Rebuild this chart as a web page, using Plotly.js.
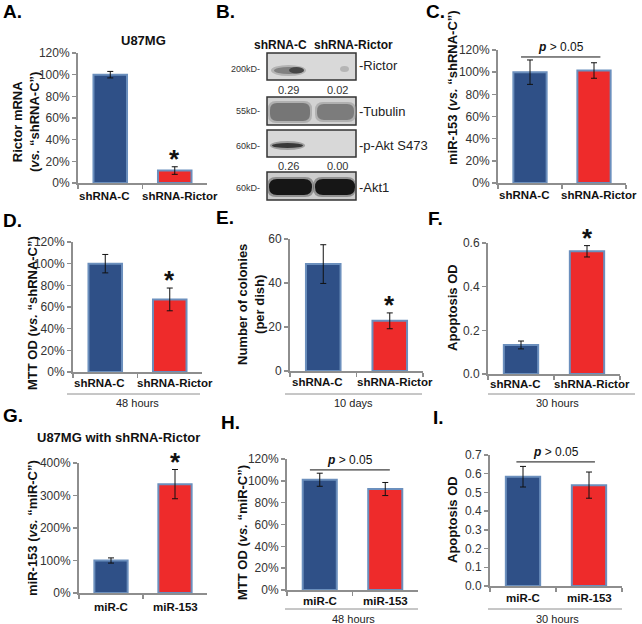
<!DOCTYPE html>
<html>
<head>
<meta charset="utf-8">
<script src="https://cdn.plot.ly/plotly-3.0.1.min.js"></script>
<style>html,body{margin:0;padding:0;background:#fff}#chart{width:642px;height:624px}</style>
</head>
<body>
<div id="chart"></div>
<script>
// ---------------- DATA ----------------
const catsShRNA = ['shRNA-C', 'shRNA-Rictor'];
const catsMiR = ['miR-C', 'miR-153'];

const rictorMRNA = [100, 11.5];          const rictorMRNAErr = [3, 3.5];
const mir153vsShRNA = [100, 101.5];      const mir153vsShRNAErr = [11, 7];
const mttVsShRNA = [100, 67];            const mttVsShRNAErr = [8.5, 10.5];
const colonies = [48.6, 22.8];           const coloniesErr = [8.8, 3.6];
const apoptosisShRNA = [0.133, 0.562];   const apoptosisShRNAErr = [0.018, 0.026];
const mir153vsMiRC = [100, 335];         const mir153vsMiRCErr = [8, 45];
const mttVsMiRC = [101, 92.5];           const mttVsMiRCErr = [6, 6];
const apoptosisMiR = [0.584, 0.539];     const apoptosisMiRErr = [0.055, 0.07];

const sigA = [false, true];
const sigD = [false, true];
const sigE = [false, true];
const sigF = [false, true];
const sigG = [false, true];

// Western blot densitometry labels
const blotRictor = ['0.29', '0.02'];
const blotPAkt = ['0.26', '0.00'];
const blotProteins = ['-Rictor', '-Tubulin', '-p-Akt S473', '-Akt1'];
const blotMarkers = ['200kD-', '55kD-', '60kD-', '60kD-'];

// ---------------- LAYOUT HELPERS ----------------
const W = 642, H = 624;
const FF = 'Liberation Sans, Arial, Helvetica, sans-serif';
const BLUE = '#2f5087', RED = '#ee2b2b', EDGE = '#6b8fbd', AX = '#8e8e8e';
const px = x => x / W;
const py = y => 1 - y / H;

const annotations = [];
const shapes = [];
const traces = [];
const layout = {
  width: W, height: H, margin: {l: 0, r: 0, t: 0, b: 0},
  paper_bgcolor: '#fff', plot_bgcolor: 'rgba(0,0,0,0)',
  showlegend: false, font: {family: FF, color: '#222'},
  bargap: 0.48
};

function txt(text, x, y, o) {
  o = o || {};
  annotations.push({
    text: text, x: px(x), y: py(y), xref: 'paper', yref: 'paper', showarrow: false,
    xanchor: o.xa || 'center', yanchor: o.ya || 'middle', textangle: o.rot || 0,
    font: {family: FF, size: o.size || 12, color: o.color || '#111'}
  });
}
function line(x0, y0, x1, y1, color, w) {
  shapes.push({type: 'line', xref: 'paper', yref: 'paper', x0: px(x0), y0: py(y0), x1: px(x1), y1: py(y1),
    line: {color: color || AX, width: w || 1}});
}

let axN = 0;
function panel(g, cats, vals, errs, range, dtick, suffix, fmt, sig, lab) {
  axN++;
  const xa = axN === 1 ? 'x' : 'x' + axN, ya = axN === 1 ? 'y' : 'y' + axN;
  const xk = axN === 1 ? 'xaxis' : 'xaxis' + axN, yk = axN === 1 ? 'yaxis' : 'yaxis' + axN;
  traces.push({
    type: 'bar', x: cats, y: vals, xaxis: xa, yaxis: ya,
    marker: {color: [BLUE, RED], line: {color: EDGE, width: 2}},
    error_y: {type: 'data', array: errs, visible: true, color: '#111', thickness: 1, width: 3},
    hoverinfo: 'skip'
  });
  layout[xk] = {
    domain: [px(g[0]), px(g[1])], anchor: ya, type: 'category', range: [-0.5, 1.5],
    showline: true, linecolor: AX, linewidth: 2, showgrid: false, zeroline: false,
    ticks: 'outside', tickson: 'boundaries', ticklen: 4, tickcolor: AX, tickwidth: 1.5,
    tickvals: cats, showticklabels: false, fixedrange: true
  };
  layout[yk] = {
    domain: [py(g[3]), py(g[2])], anchor: xa, range: range, dtick: dtick, tick0: 0,
    showline: true, linecolor: AX, linewidth: 2, showgrid: false, zeroline: false,
    ticks: 'outside', ticklen: 4, tickcolor: AX, tickwidth: 1.5,
    ticksuffix: suffix || '', tickformat: fmt || '',
    tickfont: {family: FF, size: 12, color: '#333'}, fixedrange: true
  };
  // category labels (bold), slightly spread like the original
  cats.forEach((c, i) => {
    annotations.push({
      text: '<b>' + c + '</b>', x: c, y: py(g[3] + lab[0]), xref: xa, yref: 'paper', showarrow: false,
      xanchor: 'center', yanchor: 'middle', xshift: lab[1][i], font: {family: FF, size: 11.5, color: '#111'}
    });
  });
  if (sig) {
    sig.forEach((s, i) => {
      if (!s) return;
      annotations.push({
        text: '<b>*</b>', x: cats[i], y: vals[i] + errs[i], xref: xa, yref: ya, showarrow: false,
        xanchor: 'center', yanchor: 'bottom', yshift: -9, font: {family: FF, size: 26, color: '#111'}
      });
    });
  }
  return {xa: xa, ya: ya};
}
function pline(ax, x0, x1, yv) {
  shapes.push({type: 'line', xref: ax.xa, yref: ax.ya, x0: x0, x1: x1, y0: yv, y1: yv, line: {color: '#111', width: 1}});
  annotations.push({text: '<b><i>p</i></b> > 0.05', x: (x0 + x1) / 2, y: yv, xref: ax.xa, yref: ax.ya,
    showarrow: false, xanchor: 'center', yanchor: 'bottom', yshift: 1, font: {family: FF, size: 12, color: '#111'}});
}
const spreadSh = [-6, 5];
const spreadMi = [0, 0];

// ---------------- PANELS ----------------
// A
panel([78, 207, 53, 183], catsShRNA, rictorMRNA, rictorMRNAErr, [0, 120], 20, '%', '', sigA, [13, spreadSh]);
txt('<b>U87MG</b>', 143, 40, {size: 13});
txt('<b>Rictor mRNA<br>(<i>vs.</i> “shRNA-C”)</b>', 26, 122, {rot: -90, size: 13});
// C
const axC = panel([498, 626, 50, 183], catsShRNA, mir153vsShRNA, mir153vsShRNAErr, [0, 120], 20, '%', '', null, [12, spreadSh]);
pline(axC, -0.14, 1.1, 113.7);
txt('<b>miR-153 (<i>vs.</i> “shRNA-C”)</b>', 453, 88, {rot: -90, size: 13});
// D
panel([73, 202, 242, 372], catsShRNA, mttVsShRNA, mttVsShRNAErr, [0, 120], 20, '%', '', sigD, [11, spreadSh]);
txt('<b>MTT OD (<i>vs.</i> “shRNA-C”)</b>', 32, 313, {rot: -90, size: 13});
line(67, 394, 200, 394); txt('48 hours', 137, 403, {size: 11, color: '#222'});
// E
panel([290, 423, 239, 371], catsShRNA, colonies, coloniesErr, [0, 60], 20, '', '', sigE, [11, spreadSh]);
txt('<b>Number of colonies<br>(per dish)</b>', 251, 305, {rot: -90, size: 13});
line(285, 394, 422, 394); txt('10 days', 353, 403, {size: 11, color: '#222'});
// F
panel([488, 620, 243, 374], catsShRNA, apoptosisShRNA, apoptosisShRNAErr, [0, 0.6], 0.2, '', '.1f', sigF, [10, spreadSh]);
txt('<b>Apoptosis OD</b>', 452, 308, {rot: -90, size: 13});
line(488, 394, 635, 394); txt('30 hours', 557, 403, {size: 11, color: '#222'});
// G
panel([79, 207, 463, 593], catsMiR, mir153vsMiRC, mir153vsMiRCErr, [0, 400], 100, '%', '', sigG, [14, spreadMi]);
txt('<b>U87MG with shRNA-Rictor</b>', 118, 438, {size: 13});
txt('<b>miR-153 (<i>vs.</i> “miR-C”)</b>', 32, 528, {rot: -90, size: 13});
// H
const axH = panel([287, 418, 459, 590], catsMiR, mttVsMiRC, mttVsMiRCErr, [0, 120], 20, '%', '', null, [11, spreadMi]);
pline(axH, -0.15, 1.07, 110);
txt('<b>MTT OD (<i>vs.</i> “miR-C”)</b>', 242, 533, {rot: -90, size: 13});
line(285, 609, 418, 609); txt('48 hours', 353, 619, {size: 11, color: '#222'});
// I
const axI = panel([490, 622, 455, 586], catsMiR, apoptosisMiR, apoptosisMiRErr, [0, 0.7], 0.1, '', '.1f', null, [12, spreadMi]);
pline(axI, -0.1, 1.09, 0.663);
txt('<b>Apoptosis OD</b>', 452, 520, {rot: -90, size: 13});
line(488, 609, 622, 609); txt('30 hours', 557, 619, {size: 11, color: '#222'});

// Panel letters
[['A.', 1, 11], ['B.', 214, 11], ['C.', 424, 11], ['D.', 1, 220], ['E.', 214, 217], ['F.', 426, 219],
 ['G.', 1, 415], ['H.', 219, 422], ['I.', 431, 418]].forEach(l => txt('<b>' + l[0] + '</b>', l[1], l[2], {xa: 'left', size: 19, color: '#000'}));

// ---------------- B: Western blot ----------------
function rrect(x0, y0, x1, y1, r) {
  const X0 = px(x0), X1 = px(x1), Y0 = py(y0), Y1 = py(y1);
  const rx = r / W, ry = r / H;
  return `M${X0 + rx},${Y0} L${X1 - rx},${Y0} Q${X1},${Y0} ${X1},${Y0 - ry} L${X1},${Y1 + ry} Q${X1},${Y1} ${X1 - rx},${Y1} L${X0 + rx},${Y1} Q${X0},${Y1} ${X0},${Y1 + ry} L${X0},${Y0 - ry} Q${X0},${Y0} ${X0 + rx},${Y0} Z`;
}
function band(x0, y0, x1, y1, color, r, op) {
  shapes.push({type: 'path', xref: 'paper', yref: 'paper', path: rrect(x0, y0, x1, y1, r),
    fillcolor: color, opacity: op == null ? 1 : op, line: {width: 0}});
}
function ell(x0, y0, x1, y1, color, op) {
  shapes.push({type: 'circle', xref: 'paper', yref: 'paper', x0: px(x0), x1: px(x1), y0: py(y0), y1: py(y1),
    fillcolor: color, opacity: op == null ? 1 : op, line: {width: 0}});
}
const boxes = [[53, 80, '#d9d9d9'], [97, 125, '#d2d2d2'], [130, 157, '#d8d8d8'], [172, 200, '#cdcdcd']];
boxes.forEach(b => {
  shapes.push({type: 'rect', xref: 'paper', yref: 'paper', x0: px(267), x1: px(356), y0: py(b[0]), y1: py(b[1]),
    fillcolor: b[2], line: {color: '#333', width: 1.5}});
});
// Rictor bands
ell(271, 65, 306, 76, '#9a9a9a', 0.6);
ell(274, 67, 304, 74, '#7a7a7a', 0.9);
ell(289, 67, 304, 73.5, '#3f3f3f', 0.9);
ell(340, 66, 349, 72, '#ababab', 0.8);
// Tubulin bands
band(268, 101, 312, 123, '#9a9a9a', 8, 0.6);
band(270, 103, 310, 121, '#767676', 7, 1);
band(315, 102, 356, 122, '#9a9a9a', 8, 0.6);
band(317, 104, 354, 120, '#7c7c7c', 7, 1);
// p-Akt band
ell(270, 141, 305, 150, '#7a7a7a', 0.6);
ell(272, 143, 303, 148, '#2d2d2d', 0.9);
// Akt1 bands
band(267, 177, 314, 197, '#555', 9, 0.5);
band(269, 179, 312, 195, '#161616', 8, 1);
band(313, 177, 356, 197, '#555', 9, 0.5);
band(315, 179, 355, 195, '#161616', 8, 1);

txt('<b>shRNA-C</b>', 280, 45, {size: 12});
txt('<b>shRNA-Rictor</b>', 354, 45, {size: 12});
const markerY = [69, 111, 146, 188];
const protY = [66, 111, 145, 187];
blotMarkers.forEach((m, i) => txt(m, 262, markerY[i], {xa: 'right', size: 9, color: '#333'}));
blotProteins.forEach((p, i) => txt(p, 357, protY[i], {xa: 'left', size: 13, color: '#222'}));
blotRictor.forEach((v, i) => txt(v, i === 0 ? 288 : 337, 90, {size: 11, color: '#333'}));
blotPAkt.forEach((v, i) => txt(v, i === 0 ? 288 : 337, 166, {size: 11, color: '#333'}));

layout.annotations = annotations;
layout.shapes = shapes;
Plotly.newPlot('chart', traces, layout, {staticPlot: true, displayModeBar: false});
</script>
</body>
</html>
